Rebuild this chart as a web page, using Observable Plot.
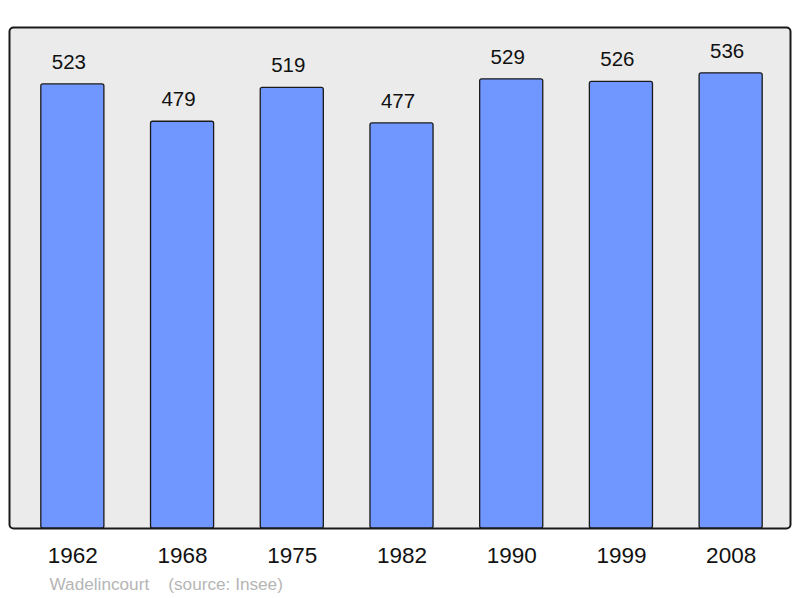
<!DOCTYPE html>
<html><head><meta charset="utf-8">
<script src="https://cdn.jsdelivr.net/npm/d3@7"></script>
<script src="https://cdn.jsdelivr.net/npm/@observablehq/plot@0.6"></script>
<style>body{margin:0;background:#fff;font-family:"Liberation Sans",Arial,sans-serif}</style>
</head><body><div id="chart"></div>
<script>
const years = ["1962","1968","1975","1982","1990","1999","2008"];
const population = [523,479,519,477,529,526,536];
const place = "Wadelincourt";
const source = "(source: Insee)";
const data = years.map((y,i)=>({year:y, pop:population[i]}));
const chart = Plot.plot({
  width: 800, height: 598,
  marginLeft: 9, marginRight: 10, marginTop: 27, marginBottom: 70,
  style: {fontFamily: "Liberation Sans, Arial, sans-serif", background: "#fff"},
  x: {domain: years, range: [17.5, 785.5], paddingInner: 0.425, paddingOuter: 0.2125, round: false, axis: null},
  y: {domain: [0, 590], axis: null},
  marks: [
    Plot.frame({fill: "#ebebeb", stroke: "#1a1a1a", strokeWidth: 2, rx: 4}),
    Plot.barY(data, {x: "year", y: "pop", fill: "#7096ff", stroke: "#1a1a1a", strokeWidth: 1.3, rx: 2}),
    Plot.text(data, {x: "year", y: "pop", text: d => String(d.pop), dy: -22, dx: -4, fontSize: 20.5, fill: "#111"}),
    Plot.text(data, {x: "year", text: "year", frameAnchor: "bottom", dy: 34, fontSize: 22.5, fill: "#111"}),
    Plot.text([place + "    " + source], {frameAnchor: "bottom-left", dx: 40, dy: 61, fontSize: 17.2, fill: "#b5b5b5", textAnchor: "start"})
  ]
});
document.getElementById("chart").appendChild(chart);
</script></body></html>
